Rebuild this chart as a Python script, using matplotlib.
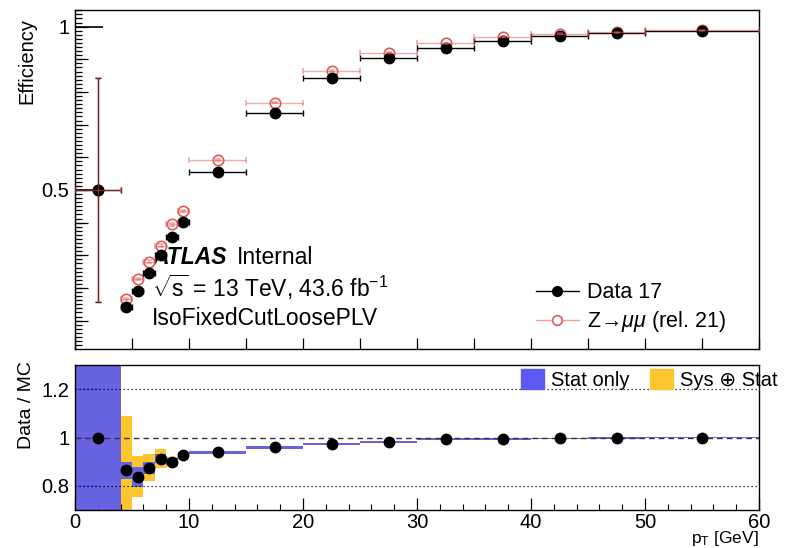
import matplotlib
matplotlib.use("Agg")
import matplotlib.pyplot as plt
import numpy as np
from matplotlib.ticker import MultipleLocator, FixedLocator, FuncFormatter, NullLocator
from matplotlib.lines import Line2D
from matplotlib.patches import Patch

plt.rcParams['font.family'] = ['Liberation Sans', 'DejaVu Sans']
plt.rcParams['mathtext.fontset'] = 'custom'
plt.rcParams['mathtext.rm'] = 'Liberation Sans'
plt.rcParams['mathtext.it'] = 'Liberation Sans:italic'
plt.rcParams['mathtext.bf'] = 'Liberation Sans:bold'

# ---------------- data ----------------
bin_lo = [0, 4, 5, 6, 7, 8, 9, 10, 15, 20, 25, 30, 35, 40, 45, 50]
bin_hi = [4, 5, 6, 7, 8, 9, 10, 15, 20, 25, 30, 35, 40, 45, 50, 60]
pt = [2, 4.5, 5.5, 6.5, 7.5, 8.5, 9.5, 12.5, 17.5, 22.5, 27.5, 32.5, 37.5, 42.5, 47.5, 55]
eff_data = [0.500, 0.143, 0.191, 0.245, 0.300, 0.355, 0.403, 0.554, 0.737, 0.842,
            0.903, 0.936, 0.957, 0.972, 0.980, 0.987]
eff_mc = [0.500, 0.166, 0.227, 0.280, 0.329, 0.395, 0.436, 0.592, 0.767, 0.864,
          0.920, 0.949, 0.969, 0.979, 0.983, 0.989]
err_data = [0.343, 0.006, 0.006, 0.006, 0.006, 0.005, 0.005, 0.004, 0.003, 0.003,
            0.002, 0.002, 0.002, 0.002, 0.002, 0.002]
err_mc = [0.343, 0.004, 0.004, 0.004, 0.004, 0.004, 0.003, 0.003, 0.002, 0.002,
          0.002, 0.002, 0.002, 0.002, 0.002, 0.002]
ratio = [1.000, 0.864, 0.837, 0.875, 0.913, 0.900, 0.929, 0.938, 0.959, 0.974,
         0.982, 0.992, 0.993, 0.996, 0.999, 1.000]
stat_err = [0.97, 0.035, 0.040, 0.025, 0.020, 0.015, 0.010, 0.005, 0.005, 0.005,
            0.004, 0.004, 0.004, 0.004, 0.004, 0.004]
tot_err = [0.97, 0.223, 0.085, 0.055, 0.040, 0.021, 0.013, 0.005, 0.005, 0.005,
           0.004, 0.004, 0.004, 0.004, 0.004, 0.004]

bin_lo = np.array(bin_lo, float)
bin_hi = np.array(bin_hi, float)
pt = np.array(pt, float)
ratio = np.array(ratio)
stat_err = np.array(stat_err)
tot_err = np.array(tot_err)
xerr = [pt - bin_lo, bin_hi - pt]

BLUE = '#5b5bf2'
YELLOW = '#fdc62e'
MCRED = '#e05a5a'

W, H = 786, 548
fig = plt.figure(figsize=(W / 100, H / 100), dpi=100)


def box(l, t, r, b):
    return [l / W, 1 - b / H, (r - l) / W, (b - t) / H]


ax = fig.add_axes(box(75, 10, 759, 349))
axr = fig.add_axes(box(75, 365, 759, 510))

# ---------------- top panel ----------------
ax.set_xlim(0, 60)
ax.set_ylim(0.013, 1.051)

d = ax.errorbar(pt, eff_data, xerr=xerr, yerr=err_data, fmt='o', color='black',
                ms=7.5, lw=1.0, capsize=2.5, capthick=1.0, zorder=4)
m = ax.errorbar(pt, eff_mc, xerr=xerr, yerr=err_mc, fmt='o', mfc='white', mec=MCRED,
                mew=1.2, ms=7.5, ecolor=(0.88, 0.35, 0.35, 0.5), lw=1.0,
                capsize=2.5, capthick=1.0, zorder=5)
m[0].set_zorder(3.5)

ax.tick_params(axis='both', which='both', direction='in', top=False, right=False)
ax.yaxis.set_major_locator(FixedLocator([0.5, 1.0]))
ax.yaxis.set_major_formatter(FuncFormatter(lambda v, p: f'{v:g}'))
ax.yaxis.set_minor_locator(MultipleLocator(0.0125))
ax.tick_params(axis='y', which='major', length=20, width=1.2, labelsize=14.5, pad=4)
ax.tick_params(axis='y', which='minor', length=5, width=0.9)
sec = ax.secondary_yaxis('left')
sec.set_yticks(np.arange(0.1, 1.01, 0.1))
sec.yaxis.set_minor_locator(NullLocator())
sec.tick_params(direction='in', length=9, width=0.9, labelleft=False)

ax.xaxis.set_major_locator(MultipleLocator(5))
ax.xaxis.set_minor_locator(NullLocator())
ax.tick_params(axis='x', which='major', length=8, width=0.9, labelbottom=False)
for s in ax.spines.values():
    s.set_linewidth(1.0)

ax.text(0.1126, 0.271, 'ATLAS', transform=ax.transAxes, fontsize=16.5,
        fontweight='bold', fontstyle='italic', va='center', ha='left')
ax.text(0.237, 0.271, 'Internal', transform=ax.transAxes, fontsize=16.5,
        va='center', ha='left')
ax.text(0.1126, 0.183, r'$\sqrt{\mathrm{s}}$ = 13 TeV, 43.6 fb$^{\mathrm{-1}}$',
        transform=ax.transAxes, fontsize=16.5, va='center', ha='left')
ax.text(0.1126, 0.0914, 'IsoFixedCutLoosePLV', transform=ax.transAxes, fontsize=16.5,
        va='center', ha='left')

h_data = Line2D([], [], color='black', marker='o', ms=7, lw=1.0)
h_mc = Line2D([], [], color='#f0a0a0', marker='o', ms=7, lw=1.0, mfc='white',
              mec=MCRED, mew=1.2)
ax.legend([h_data, h_mc], ['Data 17', 'Z→' + r'$\mu\mu$' + ' (rel. 21)'],
          loc='center left', bbox_to_anchor=(0.645, 0.12), frameon=False,
          fontsize=15.5, handlelength=2.0, labelspacing=0.28, handletextpad=0.4)

fig.text(27 / W, 1 - 18 / H, 'Efficiency', rotation=90, fontsize=14.5,
         ha='center', va='top')

# ---------------- ratio panel ----------------
axr.set_xlim(0, 60)
axr.set_ylim(0.7, 1.3)
widths = bin_hi - bin_lo
axr.bar(bin_lo, 2 * tot_err, bottom=ratio - tot_err, width=widths, align='edge',
        color=YELLOW, lw=0, zorder=1)
axr.bar(bin_lo, 2 * stat_err, bottom=ratio - stat_err, width=widths, align='edge',
        color=BLUE, lw=0, zorder=2, alpha=0.92)
for yv in (0.8, 1.2):
    axr.axhline(yv, color='black', lw=0.9, ls=(0, (1, 2.2)), zorder=5)
axr.axhline(1.0, color='#333333', lw=1.0, ls=(0, (4, 3)), zorder=5)
axr.plot(pt, ratio, 'o', color='black', ms=7.5, zorder=6)

axr.tick_params(axis='both', which='both', direction='in', top=False, right=False)
axr.yaxis.set_major_locator(FixedLocator([0.8, 1.0, 1.2]))
axr.yaxis.set_major_formatter(FuncFormatter(lambda v, p: f'{v:g}'))
axr.yaxis.set_minor_locator(NullLocator())
axr.tick_params(axis='y', which='major', length=17, width=1.2, labelsize=14.5, pad=4,
                color='#000033')
axr.xaxis.set_major_locator(MultipleLocator(10))
axr.xaxis.set_minor_locator(MultipleLocator(2))
axr.tick_params(axis='x', which='major', length=9, width=0.9, labelsize=14.5, pad=2)
axr.tick_params(axis='x', which='minor', length=4.5, width=0.8)
for s in axr.spines.values():
    s.set_linewidth(1.0)

axr.legend([Patch(color=BLUE), Patch(color=YELLOW)], ['Stat only', 'Sys ⊕ Stat'],
           loc='upper left', bbox_to_anchor=(0.64, 1.03), ncol=2, frameon=False,
           fontsize=14.5, handlelength=1.15, handleheight=1.2, handletextpad=0.35,
           columnspacing=1.0, borderaxespad=0)

fig.text(27 / W, 1 - 405 / H, 'Data / MC', rotation=90, fontsize=14,
         ha='center', va='center')
fig.text(759 / W, 1 - 538 / H, r'p$_{\mathrm{T}}$ [GeV]', fontsize=12.5,
         ha='right', va='center')

fig.savefig('out.png', dpi=100)
